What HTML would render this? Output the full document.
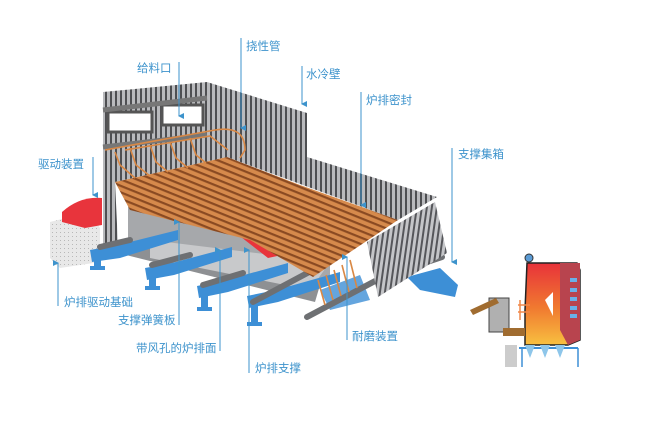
<!DOCTYPE html>
<html><head><meta charset="utf-8"><style>
body{margin:0;background:#fff;width:650px;height:426px;overflow:hidden}
svg text{font-family:"Liberation Sans","Noto Sans CJK SC",sans-serif;font-size:11.5px;fill:#3d93cc}
</style></head><body>
<svg width="650" height="426" viewBox="0 0 650 426">
<defs>
<pattern id="stripe" width="5" height="10" patternUnits="userSpaceOnUse"><rect width="5" height="10" fill="#b9babd"/><rect width="2" height="10" fill="#4e4f52"/></pattern>
<pattern id="stripe2" width="5" height="10" patternUnits="userSpaceOnUse" patternTransform="skewX(-8)"><rect width="5" height="10" fill="#c4c5c8"/><rect width="2" height="10" fill="#55565a"/></pattern>
<pattern id="cu" width="6" height="6" patternUnits="userSpaceOnUse" patternTransform="rotate(22)"><rect width="6" height="6" fill="#d68a4c"/><rect width="6" height="2.2" fill="#8a4a22"/></pattern>
<pattern id="conc" width="4" height="4" patternUnits="userSpaceOnUse"><rect width="4" height="4" fill="#e8e8e8"/><rect width="1" height="1" fill="#b8b8b8"/></pattern>
<linearGradient id="fire" x1="0" y1="0" x2="0" y2="1"><stop offset="0" stop-color="#e8323a"/><stop offset=".55" stop-color="#f07a30"/><stop offset="1" stop-color="#f8c040"/></linearGradient>
<marker id="ar" markerWidth="6" markerHeight="6" refX="3" refY="5" orient="auto-start-reverse"><path d="M0,0 L3,6 L6,0 Z" fill="#3d93cc"/></marker>
</defs>
<!-- back wall -->
<polygon points="103,92 207,82 307,113 307,157 437,197 398,220 227,157 115,182 118,245 103,245" fill="url(#stripe)"/>
<rect x="108" y="112" width="44" height="20" fill="#fff" stroke="#555" stroke-width="3"/>
<rect x="162" y="105" width="41" height="20" fill="#fff" stroke="#555" stroke-width="3"/>
<line x1="103" y1="110" x2="207" y2="98" stroke="#777" stroke-width="5"/>
<line x1="103" y1="147" x2="207" y2="135" stroke="#777" stroke-width="5"/>
<!-- concrete block and drive -->
<polygon points="50,222 90,212 100,228 100,262 60,268 50,258" fill="url(#conc)"/>
<path d="M62,212 Q80,196 102,198 L102,225 L85,228 L62,222 Z" fill="#e8343c"/>
<!-- support frame -->
<polygon points="128,205 330,260 330,285 128,250" fill="#a6a8ab"/>
<polygon points="128,240 320,285 315,302 126,255" fill="#8e9093"/>
<polygon points="150,240 330,262 310,290 150,258" fill="#c8c9cb"/>
<polygon points="232,230 282,228 305,250 268,258" fill="#e8343c"/>
<!-- blue I-beams -->
<g fill="#3d8fd6">
<polygon points="90,250 118,245 178,230 178,240 120,258 92,262"/><rect x="94" y="258" width="7" height="10"/><rect x="90" y="266" width="15" height="4"/>
<polygon points="145,268 172,263 232,247 232,257 174,275 147,280"/><rect x="149" y="278" width="7" height="10"/><rect x="145" y="286" width="15" height="4"/>
<polygon points="197,286 226,280 288,263 288,273 228,292 199,298"/><rect x="201" y="296" width="7" height="13"/><rect x="197" y="307" width="15" height="4"/>
<polygon points="247,296 276,290 340,272 340,282 278,302 249,308"/><rect x="251" y="306" width="7" height="18"/><rect x="247" y="322" width="15" height="4"/>
<polygon points="407,277 440,268 458,285 455,297 420,290"/>
<polygon points="320,290 360,275 370,300 330,310" opacity=".8"/>
</g>
<g stroke="#6e7073" stroke-width="6" stroke-linecap="round">
<line x1="100" y1="247" x2="130" y2="240"/><line x1="152" y1="265" x2="190" y2="255"/>
<line x1="203" y1="285" x2="243" y2="273"/><line x1="253" y1="302" x2="313" y2="270"/>
<line x1="307" y1="317" x2="377" y2="280"/><line x1="418" y1="265" x2="442" y2="257"/>
</g>
<!-- right panel -->
<polygon points="367,242 435,202 447,253 378,297" fill="url(#stripe2)"/>
<!-- grate -->
<polygon points="115,182 227,157 300,185 398,220 313,277 250,240 130,210" fill="url(#cu)"/>
<g fill="none" stroke="#d98845" stroke-width="1.6">
<path d="M105,150 L215,130 Q245,125 245,150 L240,158"/>
<path d="M115,152 L120,165 L135,178"/>
<path d="M130,148 L136,165 L150,176"/><path d="M150,145 L156,162 L168,172"/>
<path d="M170,142 L176,158 L188,168"/><path d="M190,138 L196,155 L206,163"/>
<path d="M125,150 L210,136 L228,150"/>
<path d="M318,280 L325,305"/><path d="M326,275 L333,300"/><path d="M334,270 L341,296"/><path d="M342,265 L349,292"/><path d="M350,260 L357,288"/>
</g>
<!-- labels -->
<g stroke="#3d93cc" stroke-width="1" fill="none">
<line x1="241" y1="38" x2="241" y2="128" marker-end="url(#ar)"/>
<line x1="179" y1="62" x2="179" y2="116" marker-end="url(#ar)"/>
<line x1="302" y1="66" x2="302" y2="104" marker-end="url(#ar)"/>
<line x1="361" y1="92" x2="361" y2="205" marker-end="url(#ar)"/>
<line x1="452" y1="148" x2="452" y2="262" marker-end="url(#ar)"/>
<line x1="93" y1="157" x2="93" y2="195" marker-end="url(#ar)"/>
<line x1="58" y1="306" x2="58" y2="263" marker-end="url(#ar)"/>
<line x1="179" y1="325" x2="179" y2="222" marker-end="url(#ar)"/>
<line x1="220" y1="351" x2="220" y2="250" marker-end="url(#ar)"/>
<line x1="249" y1="373" x2="249" y2="250" marker-end="url(#ar)"/>
<line x1="347" y1="340" x2="347" y2="257" marker-end="url(#ar)"/>
</g>
<text x="246" y="50">挠性管</text>
<text x="137" y="72">给料口</text>
<text x="306" y="78">水冷壁</text>
<text x="366" y="104">炉排密封</text>
<text x="458" y="158">支撑集箱</text>
<text x="38" y="168">驱动装置</text>
<text x="64" y="306">炉排驱动基础</text>
<text x="118" y="324">支撑弹簧板</text>
<text x="136" y="352">带风孔的炉排面</text>
<text x="255" y="372">炉排支撑</text>
<text x="352" y="340">耐磨装置</text>
<!-- boiler diagram -->
<g>
<circle cx="529" cy="258" r="4" fill="#5b9bd5" stroke="#333"/>
<polygon points="527,263 577,263 580,270 580,340 568,345 540,345 525,345 525,310" fill="url(#fire)" stroke="#222" stroke-width="1.5"/>
<polygon points="560,263 580,263 580,340 568,345 560,330" fill="#b8444e"/>
<g fill="#6ab0e8"><rect x="570" y="278" width="7" height="4"/><rect x="570" y="288" width="7" height="4"/><rect x="570" y="297" width="7" height="4"/><rect x="570" y="306" width="7" height="4"/><rect x="570" y="314" width="7" height="4"/></g>
<polygon points="545,300 553,292 553,316" fill="#fff"/>
<rect x="489" y="298" width="20" height="34" fill="#b0b0b0" stroke="#444"/>
<polygon points="470,310 496,298 499,303 473,315" fill="#a06c30"/>
<rect x="503" y="328" width="22" height="8" fill="#a06c30"/>
<rect x="505" y="345" width="12" height="22" fill="#ccc"/>
<line x1="519" y1="348" x2="578" y2="348" stroke="#3d8fd6" stroke-width="2"/>
<line x1="522" y1="348" x2="522" y2="367" stroke="#3d8fd6" stroke-width="1.5"/>
<line x1="578" y1="348" x2="578" y2="367" stroke="#3d8fd6" stroke-width="1.5"/>
<g fill="#8ec6ea"><polygon points="525,345 535,345 530,358"/><polygon points="540,345 550,345 545,358"/><polygon points="555,345 565,345 560,358"/></g>
<path d="M518,305 L530,305 M518,312 L530,312 M520,300 L520,320" stroke="#f0884a" stroke-width="1.5" fill="none"/>
</g>
</svg>
</body></html>
